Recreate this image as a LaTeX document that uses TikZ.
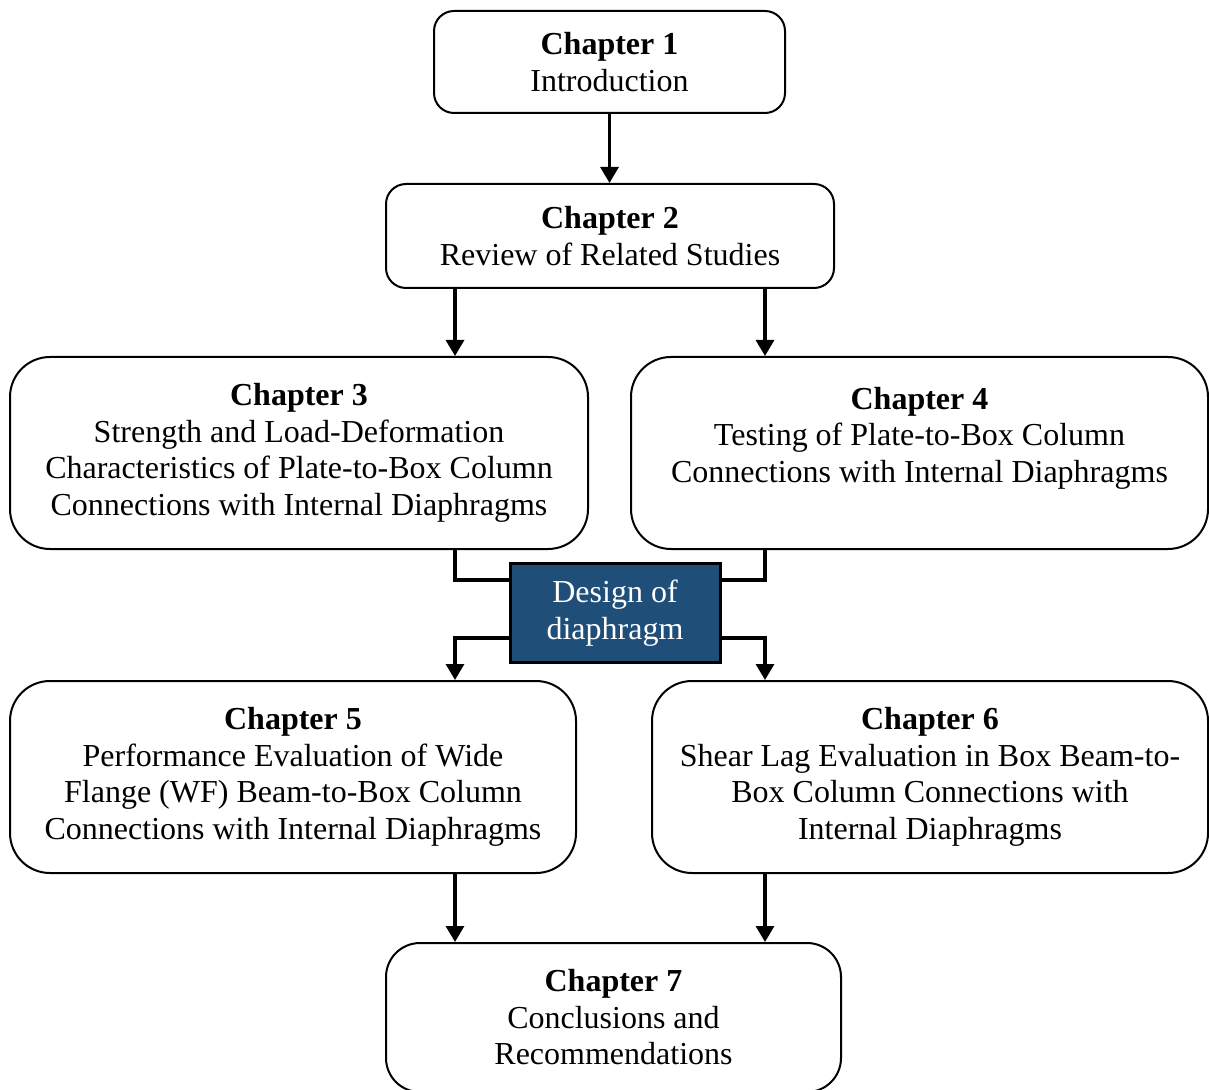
\documentclass[tikz,border=0pt]{standalone}
\usepackage{fontspec}
\setmainfont{Liberation Serif}
\usetikzlibrary{arrows.meta}
\definecolor{diablue}{RGB}{31,78,121}

\tikzset{
  chapbox/.style={draw, line width=1pt, rounded corners=20pt, fill=white,
    align=center, inner sep=0pt, font=\fontsize{16}{18.25}\selectfont},
  designbox/.style={draw, line width=1.5pt, fill=diablue, text=white,
    align=center, inner sep=0pt, font=\fontsize{16}{18.25}\selectfont},
  arr/.style={line width=1.6pt, -{Triangle[width=9pt,length=8pt]}},
  link/.style={line width=1.6pt}
}

\begin{document}
\begin{tikzpicture}[x=0.5pt,y=-0.5pt]
    \useasboundingbox (0,0) rectangle (1209,1090);
    \clip (0,0) rectangle (1209,1090);

    % chapters
    \node[chapbox, rounded corners=10pt, minimum width=175.5pt, minimum height=51pt] (ch1) at (609.5,62)
        {\textbf{Chapter 1}\\Introduction};
    \node[chapbox, rounded corners=10pt, minimum width=224pt, minimum height=52pt] (ch2) at (610,236)
        {\textbf{Chapter 2}\\Review of Related Studies};
    \node[chapbox, minimum width=289pt, minimum height=96pt] (ch3) at (299,453)
        {\textbf{Chapter 3}\\Strength and Load-Deformation\\Characteristics of Plate-to-Box Column\\Connections with Internal Diaphragms};
    \node[chapbox, minimum width=288.5pt, minimum height=96pt] (ch4) at (919.5,453)
        {\textbf{Chapter 4}\\Testing of Plate-to-Box Column\\Connections with Internal Diaphragms\\\mbox{}};
    \node[designbox, minimum width=105pt, minimum height=49.5pt] (design) at (615,613)
        {Design of\\diaphragm};
    \node[chapbox, minimum width=283pt, minimum height=96pt] (ch5) at (293,777)
        {\textbf{Chapter 5}\\Performance Evaluation of Wide\\Flange (WF) Beam-to-Box Column\\Connections with Internal Diaphragms};
    \node[chapbox, minimum width=278pt, minimum height=96pt] (ch6) at (930,777)
        {\textbf{Chapter 6}\\Shear Lag Evaluation in Box Beam-to-\\Box Column Connections with\\Internal Diaphragms};
    \node[chapbox, rounded corners=17pt, minimum width=227.5pt, minimum height=74.5pt] (ch7) at (613.5,1017.5)
        {\textbf{Chapter 7}\\Conclusions and\\Recommendations};

    % columns of the links
    \coordinate (lcol) at (455,0);
    \coordinate (rcol) at (765,0);
    \coordinate (din) at (0,580);
    \coordinate (dout) at (0,638);

    \draw[arr] (ch1.south) -- (ch1.south |- ch2.north);
    \draw[arr] (ch2.south -| lcol) -- (ch3.north -| lcol);
    \draw[arr] (ch2.south -| rcol) -- (ch4.north -| rcol);

    \draw[link] (ch3.south -| lcol) |- (design.west |- din);
    \draw[link] (ch4.south -| rcol) |- (design.east |- din);
    \draw[arr] (design.west |- dout) -| (ch5.north -| lcol);
    \draw[arr] (design.east |- dout) -| (ch6.north -| rcol);

    \draw[arr] (ch5.south -| lcol) -- (ch7.north -| lcol);
    \draw[arr] (ch6.south -| rcol) -- (ch7.north -| rcol);
\end{tikzpicture}
\end{document}
